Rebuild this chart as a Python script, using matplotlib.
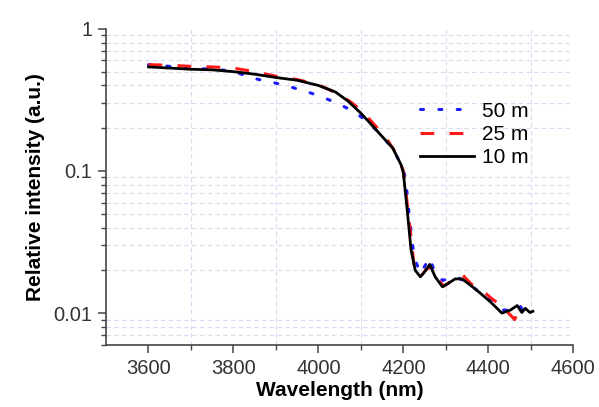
import matplotlib
matplotlib.use("Agg")
import matplotlib.pyplot as plt
from matplotlib.ticker import FixedLocator, LogLocator, FuncFormatter, NullFormatter

plt.rcParams['font.family'] = ['Liberation Sans', 'DejaVu Sans']

# 10 m
wl10 = [3600, 3650, 3700, 3750, 3800, 3850, 3900, 3950, 4000, 4040, 4070, 4100,
        4120, 4150, 4175, 4195, 4200, 4210, 4218, 4228, 4240, 4250, 4262, 4275,
        4292, 4310, 4322, 4338, 4357, 4380, 4405, 4432, 4452, 4468, 4479, 4487,
        4498, 4505]
int10 = [0.54, 0.53, 0.52, 0.515, 0.50, 0.48, 0.455, 0.435, 0.40, 0.36, 0.31, 0.255,
         0.22, 0.175, 0.145, 0.11, 0.097, 0.05, 0.028, 0.02, 0.018, 0.0195, 0.022, 0.018,
         0.0153, 0.0165, 0.0174, 0.0174, 0.0158, 0.0139, 0.012, 0.010, 0.0105, 0.0113, 0.0101, 0.0108,
         0.0101, 0.0103]

# 25 m
wl25 = [3600, 3650, 3700, 3750, 3800, 3850, 3900, 3950, 4000, 4050, 4080, 4105,
        4130, 4160, 4185, 4200, 4212, 4225, 4240, 4255, 4265, 4280, 4295, 4320,
        4340, 4360, 4385, 4410, 4425, 4440, 4455, 4462, 4472, 4480, 4490]
int25 = [0.56, 0.555, 0.545, 0.54, 0.53, 0.50, 0.465, 0.44, 0.405, 0.345, 0.30, 0.26,
         0.215, 0.17, 0.13, 0.10, 0.05, 0.022, 0.018, 0.0205, 0.021, 0.0175, 0.0155, 0.0172,
         0.0185, 0.016, 0.0145, 0.0125, 0.0117, 0.0105, 0.0095, 0.009, 0.0105, 0.0103, 0.0103]

# 50 m
wl50 = [3600, 3650, 3700, 3750, 3800, 3830, 3860, 3900, 3935, 3975, 4010, 4045,
        4085, 4120, 4150, 4175, 4195, 4205, 4215, 4225, 4240, 4262, 4275, 4292,
        4325, 4355, 4380, 4408, 4435, 4460, 4475, 4487, 4495]
int50 = [0.56, 0.545, 0.53, 0.52, 0.505, 0.465, 0.44, 0.415, 0.39, 0.36, 0.33, 0.30,
         0.26, 0.218, 0.175, 0.145, 0.11, 0.09, 0.045, 0.025, 0.019, 0.0245, 0.019, 0.017,
         0.018, 0.016, 0.014, 0.0125, 0.0105, 0.0105, 0.0112, 0.0098, 0.0102]

xticks = [3600, 3800, 4000, 4200, 4400, 4600]
xminor = [3700, 3900, 4100, 4300, 4500]

fig = plt.figure(figsize=(5.99, 4.07), dpi=100)
ax = fig.add_axes([0.177, 0.152, 0.78, 0.777])

ax.plot(wl50, int50, color='#1a1aff', lw=2.2, linestyle=(0, (1, 5)),
        dash_capstyle='round', label='50 m')
ax.plot(wl25, int25, color='#ff1a1a', lw=2.2, linestyle=(0, (4.5, 5)), label='25 m')
ax.plot(wl10, int10, color='black', lw=2.0, label='10 m')

ax.set_yscale('log')
ax.set_xlim(3500, 4600)
ax.set_ylim(0.00595, 1)

ax.xaxis.set_major_locator(FixedLocator(xticks))
ax.xaxis.set_minor_locator(FixedLocator(xminor))
ax.yaxis.set_major_locator(LogLocator(base=10, numticks=10))
ax.yaxis.set_minor_locator(LogLocator(base=10, subs=range(2, 10), numticks=20))
ax.yaxis.set_major_formatter(FuncFormatter(lambda v, p: '%g' % v))
ax.yaxis.set_minor_formatter(NullFormatter())

# light dashed grid on the minor positions only
ax.grid(which='minor', color='#d9d9f2', linestyle=(0, (4, 3)), lw=0.8)
ax.grid(which='major', visible=False)
ax.set_axisbelow(True)

for s in ['top', 'right']:
    ax.spines[s].set_visible(False)
for s in ['left', 'bottom']:
    ax.spines[s].set_color('#444444')
    ax.spines[s].set_linewidth(1.2)

ax.tick_params(which='major', direction='out', length=6, width=1.1, color='#444444',
               labelsize=14.5, labelcolor='#333333', pad=4)
ax.tick_params(which='minor', direction='out', length=3.5, width=1.0, color='#444444')

ax.set_xlabel('Wavelength (nm)', fontsize=15, fontweight='bold', labelpad=2)
ax.set_ylabel('Relative intensity (a.u.)', fontsize=15, fontweight='bold', labelpad=6)

ax.legend(loc='upper left', bbox_to_anchor=(0.701, 0.750), bbox_transform=fig.transFigure,
          frameon=False, fontsize=15, handlelength=2.6, handletextpad=0.4,
          labelspacing=0.2, borderpad=0, borderaxespad=0)

fig.savefig('out.png', dpi=100)
